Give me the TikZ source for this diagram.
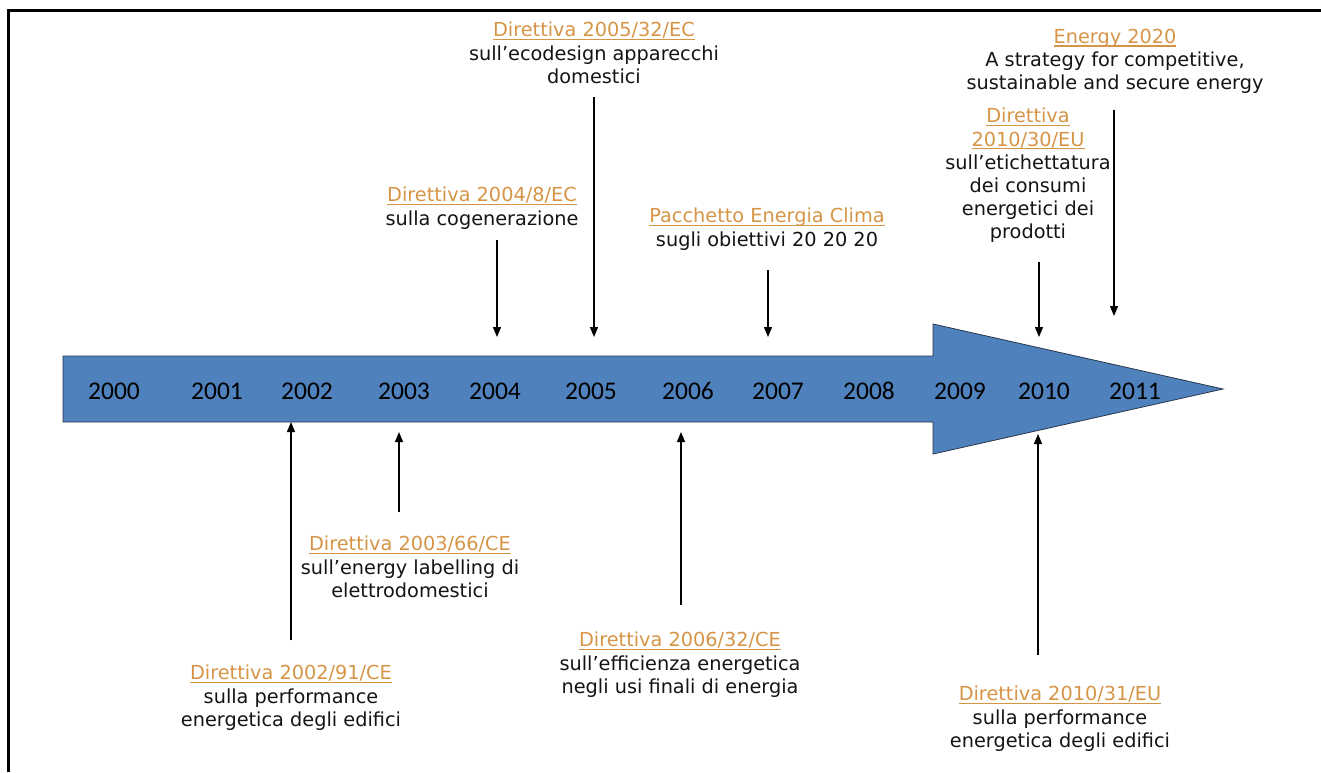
\documentclass[tikz,border=0pt]{standalone}
\usepackage{fontspec}
\usetikzlibrary{arrows.meta}
\setmainfont{DejaVu Sans}
\newfontfamily\yearfont{Carlito}
\definecolor{linkc}{RGB}{214,148,70}
\definecolor{bodyc}{RGB}{20,20,20}
\definecolor{arrowfill}{RGB}{79,129,189}
\definecolor{arrowline}{RGB}{40,55,75}
% underlined title line, rule at a fixed depth below the baseline
\newsavebox{\ttlbox}
\newcommand{\ttl}[1]{\sbox{\ttlbox}{\color{linkc}#1}%
  {\color{linkc}\rlap{\rule[-3pt]{\wd\ttlbox}{1.1pt}}\usebox{\ttlbox}}\\}
\tikzset{
  note/.style={anchor=north, align=center, inner sep=0pt, text=bodyc,
    font=\fontsize{19.3}{23.2}\selectfont},
  year/.style={anchor=center, inner sep=0pt, text=black,
    font=\yearfont\fontsize{25.5}{26}\selectfont},
  ptr/.style={line width=1.3pt, draw=black, -{Triangle[length=10pt,width=8pt]}},
}
\begin{document}
\begin{tikzpicture}[x=1pt,y=-1pt]
\useasboundingbox (0,0) rectangle (1321,772);
% frame lines on the left and top
\draw[line width=3pt] (8,772) -- (8,10) -- (1321,10);

% timeline arrow
\filldraw[fill=arrowfill, draw=arrowline, line width=0.8pt]
  (63,356) -- (933,356) -- (933,324) -- (1223,389) -- (933,454)
  -- (933,422) -- (63,422) -- cycle;

% years
\node[year] (y2000) at (114,391) {2000};
\node[year] (y2001) at (217,391) {2001};
\node[year] (y2002) at (307,391) {2002};
\node[year] (y2003) at (404,391) {2003};
\node[year] (y2004) at (495,391) {2004};
\node[year] (y2005) at (591,391) {2005};
\node[year] (y2006) at (688,391) {2006};
\node[year] (y2007) at (778,391) {2007};
\node[year] (y2008) at (869,391) {2008};
\node[year] (y2009) at (960,391) {2009};
\node[year] (y2010) at (1044,391) {2010};
\node[year] (y2011) at (1135,391) {2011};

% notes above the timeline
\node[note] (n05) at (594,22) {\ttl{Direttiva 2005/32/EC}sull’ecodesign apparecchi\\domestici};
\node[note] (n20) at (1115,29) {\ttl{Energy 2020}A strategy for competitive,\\sustainable and secure energy};
\node[note] (n04) at (482,187) {\ttl{Direttiva 2004/8/EC}sulla cogenerazione};
\node[note] (npc) at (767,208) {\ttl{Pacchetto Energia Clima}sugli obiettivi 20 20 20};
\node[note] (n10a) at (1028,108) {\ttl{Direttiva}\ttl{2010/30/EU}sull’etichettatura\\dei consumi\\energetici dei\\prodotti};

% notes below the timeline
\node[note] (n03) at (410,536) {\ttl{Direttiva 2003/66/CE}sull’energy labelling di\\elettrodomestici};
\node[note] (n06) at (680,632) {\ttl{Direttiva 2006/32/CE}sull’efficienza energetica\\negli usi finali di energia};
\node[note] (n02) at (291,665) {\ttl{Direttiva 2002/91/CE}sulla performance\\energetica degli edifici};
\node[note] (n10b) at (1060,686) {\ttl{Direttiva 2010/31/EU}sulla performance\\energetica degli edifici};

% pointer ends
\coordinate (s04) at (497,240);  \coordinate (e04) at (497,337);
\coordinate (s05) at (594,97);   \coordinate (e05) at (594,337);
\coordinate (spc) at (768,270);  \coordinate (epc) at (768,337);
\coordinate (s10a) at (1039,262); \coordinate (e10a) at (1039,337);
\coordinate (s20) at (1114,110); \coordinate (e20) at (1114,316);
\coordinate (s02) at (291,640);  \coordinate (e02) at (291,422);
\coordinate (s03) at (399,512);  \coordinate (e03) at (399,432);
\coordinate (s06) at (681,605);  \coordinate (e06) at (681,432);
\coordinate (s10b) at (1038,655); \coordinate (e10b) at (1038,434);

\foreach \p in {04,05,pc,10a,20,02,03,06,10b}
  \draw[ptr] (s\p) -- (e\p);
\end{tikzpicture}
\end{document}
